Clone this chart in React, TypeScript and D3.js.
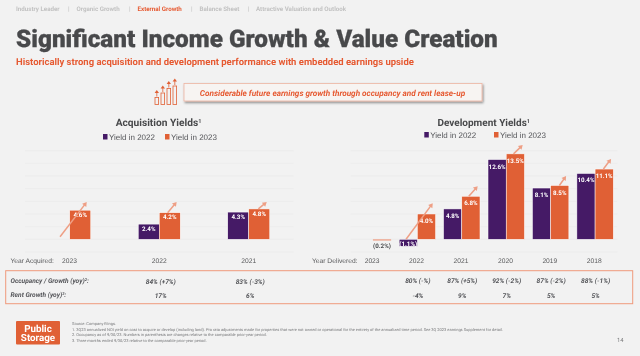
import React from "react";
import * as d3 from "d3";

const navItems = ["Industry Leader", "Organic Growth", "External Growth", "Balance Sheet", "Attractive Valuation and Outlook"];
const navX = [16, 76.5, 137.5, 199.5, 256];
const navSepX = [68, 129, 191, 247.5];

const acqYears = ["2023", "2022", "2021"];
const acq2022: (number | null)[] = [null, 2.4, 4.3];
const acq2023 = [4.6, 4.2, 4.8];
const acqOcc = ["", "84% (+7%)", "83% (-3%)"];
const acqRent = ["", "17%", "6%"];

const devYears = ["2023", "2022", "2021", "2020", "2019", "2018"];
const dev2022: (number | null)[] = [null, -1.1, 4.8, 12.6, 8.1, 10.4];
const dev2023 = [-0.2, 4.0, 6.8, 13.5, 8.5, 11.1];
const devOcc = ["", "80% (-%)", "87% (+5%)", "92% (-2%)", "87% (-2%)", "88% (-1%)"];
const devRent = ["", "-4%", "9%", "7%", "5%", "5%"];

const gridTicks = [-2, 0, 2, 4, 6, 8, 10, 12, 14];

const acqArrowFrom = [0.4, 4.2, 4.8];
const acqArrowTo = [5.9, 5.9, 5.9];
const devArrowFrom = [null, 0, 6.8, 13.5, 8.5, 11.1];
const devArrowTo = [null, 5.7, 8.4, 14.9, 10.0, 12.7];

const PURPLE = "#451a66";
const ORANGE = "#e06035";
const ARROW = "#ee9f85";
const DARK = "#48494b";
const RED = "#e65a32";
const SANS = "Roboto, sans-serif";

const y = d3.scaleLinear().domain([0, 14]).range([239.3, 150.7]);
const acqX = d3.scaleBand<string>().domain(acqYears).range([25, 293.5]);
const devX = d3.scaleBand<string>().domain(devYears).range([350.7, 617.3]);

function Bars({ years, s22, s23, x, barW, arrowFrom, arrowTo, startDx, endDx, labelSize, labelDy }: any) {
  return (
    <g>
      {years.map((yr: string, i: number) => {
        const c = x(yr) + x.bandwidth() / 2;
        const v22 = s22[i];
        const v23 = s23[i];
        const rect = (v: number, x0: number, fill: string, stroke: boolean) => {
          const y0 = Math.min(y(0), y(v));
          const h = Math.abs(y(v) - y(0));
          return <rect x={x0} y={y0} width={barW} height={Math.max(h, 1)} fill={fill} stroke={stroke ? "#fff" : "none"} strokeWidth={0.5} />;
        };
        const fmt = (v: number) => (v < 0 ? `(${Math.abs(v).toFixed(1)}%)` : `${v.toFixed(1)}%`);
        return (
          <g key={yr}>
            {v22 != null && rect(v22, c - barW, PURPLE, true)}
            {rect(v23, c, v23 < 0 ? ARROW : ORANGE, v23 >= 0)}
            {v22 != null && (
              <text x={c - barW / 2} y={v22 < 0 ? y(0) + 6.2 : y(v22) + labelDy} textAnchor="middle" fontSize={labelSize} fontWeight={700} fill="#fff" fontFamily={SANS}>{fmt(v22)}</text>
            )}
            {v23 < 0 ? (
              <text x={c + barW / 2} y={y(0) + 8.2} textAnchor="middle" fontSize={labelSize} fontWeight={700} fill={DARK} fontFamily={SANS}>{fmt(v23)}</text>
            ) : (
              <text x={c + barW / 2} y={y(v23) + labelDy} textAnchor="middle" fontSize={labelSize} fontWeight={700} fill="#fff" fontFamily={SANS}>{fmt(v23)}</text>
            )}
          </g>
        );
      })}
      {years.map((yr: string, i: number) => {
        if (arrowFrom[i] == null) return null;
        const c = x(yr) + x.bandwidth() / 2;
        const x1 = c + startDx[i];
        const x2 = c + endDx[i];
        const y1 = y(arrowFrom[i]);
        const y2 = y(arrowTo[i]);
        const a = Math.atan2(y2 - y1, x2 - x1);
        const L = 4.2, W = 2.6;
        const pts = [
          [x2, y2],
          [x2 - L * Math.cos(a) + W * Math.sin(a), y2 - L * Math.sin(a) - W * Math.cos(a)],
          [x2 - L * Math.cos(a) - W * Math.sin(a), y2 - L * Math.sin(a) + W * Math.cos(a)],
        ];
        return (
          <g key={"a" + yr}>
            <line x1={x1} y1={y1} x2={x2 - 3 * Math.cos(a)} y2={y2 - 3 * Math.sin(a)} stroke={ARROW} strokeWidth={1.5} />
            <polygon points={pts.map((p) => p.join(",")).join(" ")} fill={ARROW} />
          </g>
        );
      })}
    </g>
  );
}

function Legend({ xa, xb, ty }: { xa: number; xb: number; ty: number }) {
  return (
    <g fontFamily="'Liberation Sans', Arial, sans-serif" fontSize={8} fill="#55565a">
      <rect x={xa} y={ty - 6} width={4.5} height={5.5} fill={PURPLE} />
      <text x={xa + 6} y={ty}>Yield in 2022</text>
      <rect x={xb} y={ty - 6} width={4.5} height={5.5} fill={ORANGE} />
      <text x={xb + 6} y={ty}>Yield in 2023</text>
    </g>
  );
}

function Icon() {
  const heights = [7, 11.5, 16, 18.5];
  return (
    <g stroke={ORANGE} fill="none" strokeWidth={0.8}>
      {heights.map((h, i) => {
        const x = 155 + i * 6;
        const b = 104.5;
        return (
          <g key={i}>
            <rect x={x} y={b - h} width={3.6} height={h} />
            <line x1={x + 1.8} y1={b - h - 1} x2={x + 1.8} y2={b - h - 5} />
            <polygon points={`${x + 1.8},${b - h - 7.5} ${x - 0.4},${b - h - 4.5} ${x + 4},${b - h - 4.5}`} fill={ORANGE} stroke="none" />
          </g>
        );
      })}
    </g>
  );
}

export default function App() {
  return (
    <svg width={640} height={356} viewBox="0 0 640 356" textRendering="geometricPrecision" style={{ position: "absolute", left: 0, top: 0, display: "block", filter: "blur(0.3px)" }}>
      <defs>
        <filter id="sh" x="-5%" y="-20%" width="110%" height="150%">
          <feDropShadow dx={1} dy={1.5} stdDeviation={1} floodColor="#000" floodOpacity={0.45} />
        </filter>
      </defs>
      <rect width={640} height={356} fill="#f2f2f2" />

      <g fontFamily={SANS} fontSize={6.2} fontWeight={700} fill="#c2c2c2">
        {navItems.map((t, i) => (
          <text key={t} x={navX[i]} y={10.5} fill={i === 2 ? RED : "#c2c2c2"}>{t}</text>
        ))}
        {navSepX.map((x) => (
          <text key={x} x={x} y={10.5}>|</text>
        ))}
      </g>

      <text x={16} y={46.5} fontFamily={SANS} fontWeight={900} fontSize={24.3} fill={DARK} stroke={DARK} strokeWidth={0.25}>Significant Income Growth &amp; Value Creation</text>
      <text x={16} y={65} fontFamily={SANS} fontWeight={700} fontSize={9.47} fill={RED}>Historically strong acquisition and development performance with embedded earnings upside</text>

      <Icon />
      <rect x={184} y={83.5} width={298} height={17.5} fill="#f7f4f2" stroke="#eeb5a2" strokeWidth={0.8} filter="url(#sh)" />
      <text x={332.5} y={95.5} textAnchor="middle" fontFamily={SANS} fontStyle="italic" fontWeight={700} fontSize={8.2} fill={RED}>Considerable future earnings growth through occupancy and rent lease-up</text>

      <text x={158.5} y={125.5} textAnchor="middle" fontFamily={SANS} fontWeight={700} fontSize={10.2} fill={DARK}>Acquisition Yields<tspan fontSize={5.5} dy={-3}>1</tspan></text>
      <text x={483.7} y={125.5} textAnchor="middle" fontFamily={SANS} fontWeight={700} fontSize={10} fill={DARK}>Development Yields<tspan fontSize={5.5} dy={-3}>1</tspan></text>
      <Legend xa={103} xb={165} ty={140} />
      <Legend xa={424.3} xb={494} ty={138} />

      <g stroke="#e9e9e9" strokeWidth={0.7}>
        {gridTicks.map((t) => (
          <g key={t}>
            <line x1={25} x2={293.5} y1={y(t)} y2={y(t)} />
            <line x1={350.7} x2={617.3} y1={y(t)} y2={y(t)} />
          </g>
        ))}
      </g>

      <Bars years={acqYears} s22={acq2022} s23={acq2023} x={acqX} barW={21} arrowFrom={acqArrowFrom} arrowTo={acqArrowTo} startDx={[-9.7, 8.4, 9.6]} endDx={[17, 17.4, 18]} labelSize={6.2} labelDy={6.6} />
      <Bars years={devYears} s22={dev2022} s23={dev2023} x={devX} barW={18.2} arrowFrom={devArrowFrom} arrowTo={devArrowTo} startDx={[0, -11.3, 7, 7.3, 8.7, 8.3]} endDx={[0, 15.4, 15.9, 16.5, 15.4, 16]} labelSize={6.2} labelDy={9} />

      <g fontFamily="'Liberation Sans', Arial, sans-serif" fontSize={6.7} fill="#58595b" textAnchor="middle">
        <text x={10.5} y={263} textAnchor="start">Year Acquired:</text>
        {acqYears.map((yr, i) => (
          <text key={yr} x={i === 0 ? 69.5 : (acqX(yr) as number) + acqX.bandwidth() / 2} y={263}>{yr}</text>
        ))}
        <text x={312} y={263} textAnchor="start">Year Delivered:</text>
        {devYears.map((yr) => (
          <text key={yr} x={(devX(yr) as number) + devX.bandwidth() / 2 - 0.8} y={263}>{yr}</text>
        ))}
      </g>

      <rect x={5.7} y={270.7} width={627} height={33} fill="none" stroke="#ef9a7c" strokeWidth={1} />
      <g fontFamily={SANS} fontStyle="italic" fontWeight={700} fontSize={6.6} fill="#55565a">
        <text x={10.5} y={283}>Occupancy / Growth (yoy)<tspan fontSize={4} dy={-2}>2</tspan><tspan dy={2}>:</tspan></text>
        <text x={10.5} y={297}>Rent Growth (yoy)<tspan fontSize={4} dy={-2}>3</tspan><tspan dy={2}>:</tspan></text>
        <g textAnchor="middle">
          {acqYears.map((yr, i) => {
            const c = (acqX(yr) as number) + acqX.bandwidth() / 2 + 1.5;
            return (
              <g key={yr}>
                <text x={c} y={283.5}>{acqOcc[i]}</text>
                <text x={c} y={297.5}>{acqRent[i]}</text>
              </g>
            );
          })}
          {devYears.map((yr, i) => {
            const c = (devX(yr) as number) + devX.bandwidth() / 2 + 0.5;
            return (
              <g key={yr}>
                <text x={c} y={283}>{devOcc[i]}</text>
                <text x={c} y={297.5}>{devRent[i]}</text>
              </g>
            );
          })}
        </g>
      </g>

      <rect x={16} y={321} width={44} height={23.5} rx={1} fill={ORANGE} />
      <text fontFamily={SANS} fontWeight={700} fontSize={9.8} fill="#fff" textAnchor="middle">
        <tspan x={38} y={332.3}>Public</tspan>
        <tspan x={38} y={340.8}>Storage</tspan>
      </text>

      <g fontFamily={SANS} fontSize={4} fill="#77787a">
        <text x={72} y={325}>Source:  Company filings.</text>
        <text x={72} y={330.7}>1.  3Q23 annualized NOI yield on cost to acquire or develop (including land). Pro rata adjustments made for properties that were not owned or operational for the entirety of the annualized time period.  See 3Q 2023 earnings Supplement for detail.</text>
        <text x={72} y={336.2}>2.  Occupancy as of 9/30/23.  Numbers in parenthesis are changes relative to the comparable prior-year period.</text>
        <text x={72} y={341.7}>3.  Three months ended 9/30/23 relative to the comparable prior-year period.</text>
      </g>
      <text x={617} y={341.5} fontFamily={SANS} fontSize={5.8} fill="#77787a">14</text>
    </svg>
  );
}
